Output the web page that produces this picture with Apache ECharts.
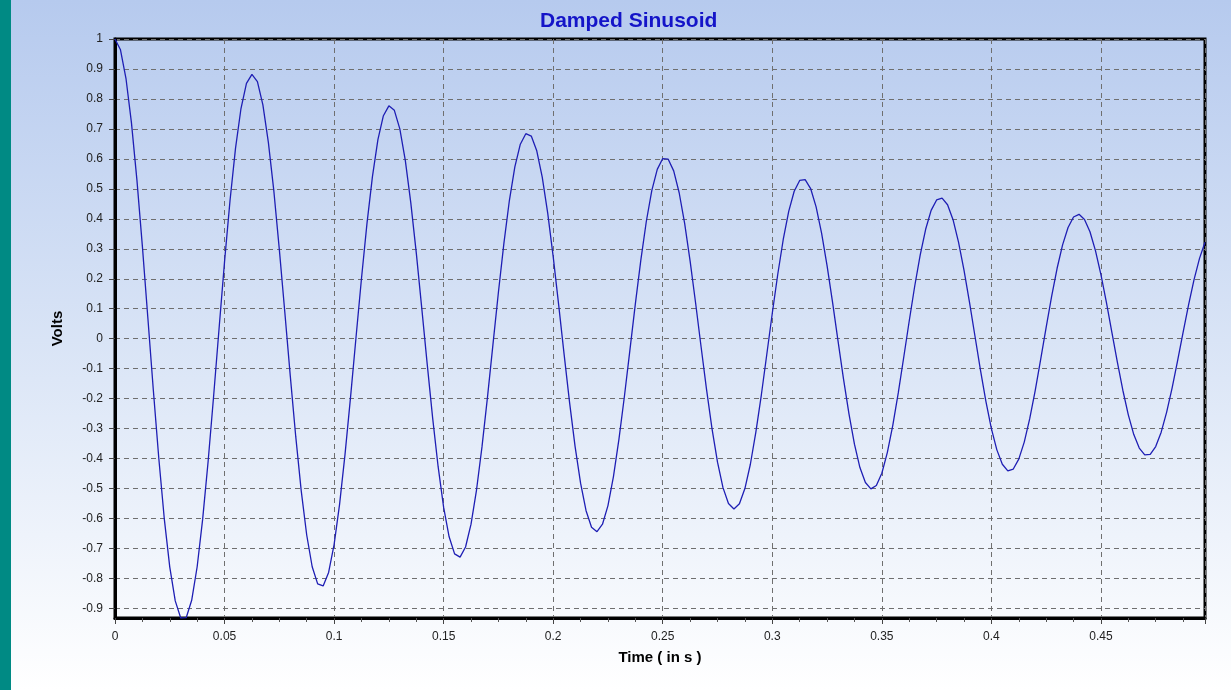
<!DOCTYPE html>
<html>
<head>
<meta charset="utf-8">
<script src="https://cdn.jsdelivr.net/npm/echarts@6/dist/echarts.min.js"></script>
<style>
html,body{margin:0;padding:0;}
#chart{width:1231px;height:690px;}
</style>
</head>
<body>
<div id="chart"></div>
<script>
const chartTitle = 'Damped Sinusoid';
const xAxisTitle = 'Time ( in s )';
const yAxisTitle = 'Volts';

const timeSeconds = [
  0, 0.0025, 0.005, 0.0075, 0.01, 0.0125, 0.015, 0.0175, 0.02, 0.0225,
  0.025, 0.0275, 0.03, 0.0325, 0.035, 0.0375, 0.04, 0.0425, 0.045, 0.0475,
  0.05, 0.0525, 0.055, 0.0575, 0.06, 0.0625, 0.065, 0.0675, 0.07, 0.0725,
  0.075, 0.0775, 0.08, 0.0825, 0.085, 0.0875, 0.09, 0.0925, 0.095, 0.0975,
  0.1, 0.1025, 0.105, 0.1075, 0.11, 0.1125, 0.115, 0.1175, 0.12, 0.1225,
  0.125, 0.1275, 0.13, 0.1325, 0.135, 0.1375, 0.14, 0.1425, 0.145, 0.1475,
  0.15, 0.1525, 0.155, 0.1575, 0.16, 0.1625, 0.165, 0.1675, 0.17, 0.1725,
  0.175, 0.1775, 0.18, 0.1825, 0.185, 0.1875, 0.19, 0.1925, 0.195, 0.1975,
  0.2, 0.2025, 0.205, 0.2075, 0.21, 0.2125, 0.215, 0.2175, 0.22, 0.2225,
  0.225, 0.2275, 0.23, 0.2325, 0.235, 0.2375, 0.24, 0.2425, 0.245, 0.2475,
  0.25, 0.2525, 0.255, 0.2575, 0.26, 0.2625, 0.265, 0.2675, 0.27, 0.2725,
  0.275, 0.2775, 0.28, 0.2825, 0.285, 0.2875, 0.29, 0.2925, 0.295, 0.2975,
  0.3, 0.3025, 0.305, 0.3075, 0.31, 0.3125, 0.315, 0.3175, 0.32, 0.3225,
  0.325, 0.3275, 0.33, 0.3325, 0.335, 0.3375, 0.34, 0.3425, 0.345, 0.3475,
  0.35, 0.3525, 0.355, 0.3575, 0.36, 0.3625, 0.365, 0.3675, 0.37, 0.3725,
  0.375, 0.3775, 0.38, 0.3825, 0.385, 0.3875, 0.39, 0.3925, 0.395, 0.3975,
  0.4, 0.4025, 0.405, 0.4075, 0.41, 0.4125, 0.415, 0.4175, 0.42, 0.4225,
  0.425, 0.4275, 0.43, 0.4325, 0.435, 0.4375, 0.44, 0.4425, 0.445, 0.4475,
  0.45, 0.4525, 0.455, 0.4575, 0.46, 0.4625, 0.465, 0.4675, 0.47, 0.4725,
  0.475, 0.4775, 0.48, 0.4825, 0.485, 0.4875, 0.49, 0.4925, 0.495, 0.4975
];

const volts = [
  1.000, 0.964, 0.869, 0.721, 0.530, 0.308, 0.069, -0.172, -0.400, -0.601,
  -0.762, -0.875, -0.932, -0.931, -0.873, -0.761, -0.603, -0.410, -0.193, 0.034,
  0.257, 0.461, 0.635, 0.768, 0.852, 0.882, 0.858, 0.780, 0.655, 0.493,
  0.298, 0.089, -0.124, -0.327, -0.508, -0.655, -0.761, -0.818, -0.825, -0.780,
  -0.687, -0.553, -0.385, -0.196, 0.004, 0.201, 0.384, 0.541, 0.664, 0.744,
  0.777, 0.762, 0.700, 0.595, 0.454, 0.287, 0.103, -0.085, -0.266, -0.428,
  -0.563, -0.661, -0.718, -0.729, -0.695, -0.619, -0.505, -0.361, -0.196, -0.020,
  0.155, 0.318, 0.461, 0.573, 0.649, 0.684, 0.676, 0.627, 0.539, 0.419,
  0.274, 0.113, -0.053, -0.214, -0.360, -0.482, -0.574, -0.629, -0.644, -0.619,
  -0.557, -0.460, -0.336, -0.193, -0.039, 0.116, 0.262, 0.391, 0.494, 0.565,
  0.601, 0.599, 0.560, 0.487, 0.385, 0.259, 0.119, -0.027, -0.170, -0.301,
  -0.412, -0.497, -0.550, -0.568, -0.551, -0.500, -0.419, -0.312, -0.188, -0.052,
  0.085, 0.215, 0.331, 0.425, 0.492, 0.528, 0.531, 0.501, 0.440, 0.352,
  0.244, 0.122, -0.007, -0.134, -0.251, -0.352, -0.430, -0.480, -0.501, -0.490,
  -0.449, -0.380, -0.289, -0.181, -0.062, 0.059, 0.175, 0.279, 0.365, 0.428,
  0.463, 0.469, 0.447, 0.397, 0.322, 0.229, 0.122, 0.009, -0.104, -0.209,
  -0.300, -0.371, -0.419, -0.441, -0.435, -0.402, -0.345, -0.267, -0.173, -0.069,
  0.038, 0.141, 0.235, 0.313, 0.371, 0.406, 0.415, 0.398, 0.357, 0.294,
  0.214, 0.121, 0.021, -0.078, -0.172, -0.254, -0.320, -0.365, -0.388, -0.386,
  -0.360, -0.312, -0.245, -0.164, -0.073, 0.021, 0.113, 0.197, 0.268, 0.322
];

const seriesData = timeSeconds.map((t, i) => [t, volts[i]]);

const chart = echarts.init(document.getElementById('chart'), null, {renderer: 'canvas'});

chart.setOption({
  animation: false,
  backgroundColor: {
    type: 'linear', x: 0, y: 0, x2: 0, y2: 1,
    colorStops: [
      {offset: 0, color: '#B6CAEE'},
      {offset: 0.55, color: '#DDE7F7'},
      {offset: 1, color: '#FFFFFF'}
    ]
  },
  graphic: [{
    type: 'rect',
    left: 0, top: 0,
    shape: {width: 11, height: 690},
    style: {fill: '#008A84'},
    silent: true
  }],
  title: {
    text: chartTitle,
    left: 535,
    top: 6,
    textStyle: {
      color: '#1414C8',
      fontFamily: 'Liberation Sans, Arial, sans-serif',
      fontSize: 21,
      fontWeight: 'bold'
    }
  },
  grid: {
    left: 115, top: 39, right: 26, bottom: 72,
    show: true,
    borderColor: '#000000',
    borderWidth: 3,
    backgroundColor: 'transparent'
  },
  xAxis: {
    type: 'value',
    min: 0,
    max: 0.4975,
    interval: 0.05,
    name: xAxisTitle,
    nameLocation: 'middle',
    nameGap: 32,
    nameTextStyle: {
      color: '#000000',
      fontFamily: 'Liberation Sans, Arial, sans-serif',
      fontSize: 15,
      fontWeight: 'bold'
    },
    axisLine: {show: true, onZero: false, lineStyle: {color: '#000000', width: 3}},
    axisTick: {show: true, length: 6, lineStyle: {color: '#444444', width: 1}},
    minorTick: {show: true, splitNumber: 4, length: 4, lineStyle: {color: '#555555', width: 1}},
    axisLabel: {
      color: '#222222',
      fontFamily: 'Liberation Sans, Arial, sans-serif',
      fontSize: 12,
      margin: 13,
      showMaxLabel: false
    },
    splitLine: {show: true, lineStyle: {color: '#6f6f6f', width: 1, type: [5, 4]}}
  },
  yAxis: {
    type: 'value',
    min: -0.932,
    max: 1,
    splitNumber: 19,
    name: yAxisTitle,
    nameLocation: 'middle',
    nameGap: 50,
    nameRotate: 90,
    nameTextStyle: {
      color: '#000000',
      fontFamily: 'Liberation Sans, Arial, sans-serif',
      fontSize: 15,
      fontWeight: 'bold'
    },
    axisLine: {show: true, onZero: false, lineStyle: {color: '#000000', width: 3}},
    axisTick: {show: true, length: 6, lineStyle: {color: '#444444', width: 1}},
    axisLabel: {
      color: '#222222',
      fontFamily: 'Liberation Sans, Arial, sans-serif',
      fontSize: 12,
      margin: 12,
      showMinLabel: false
    },
    splitLine: {show: true, lineStyle: {color: '#6f6f6f', width: 1, type: [5, 4]}}
  },
  series: [{
    type: 'line',
    data: seriesData,
    showSymbol: false,
    smooth: false,
    lineStyle: {color: '#1E1EB4', width: 1.3},
    clip: true
  }]
});
</script>
</body>
</html>
